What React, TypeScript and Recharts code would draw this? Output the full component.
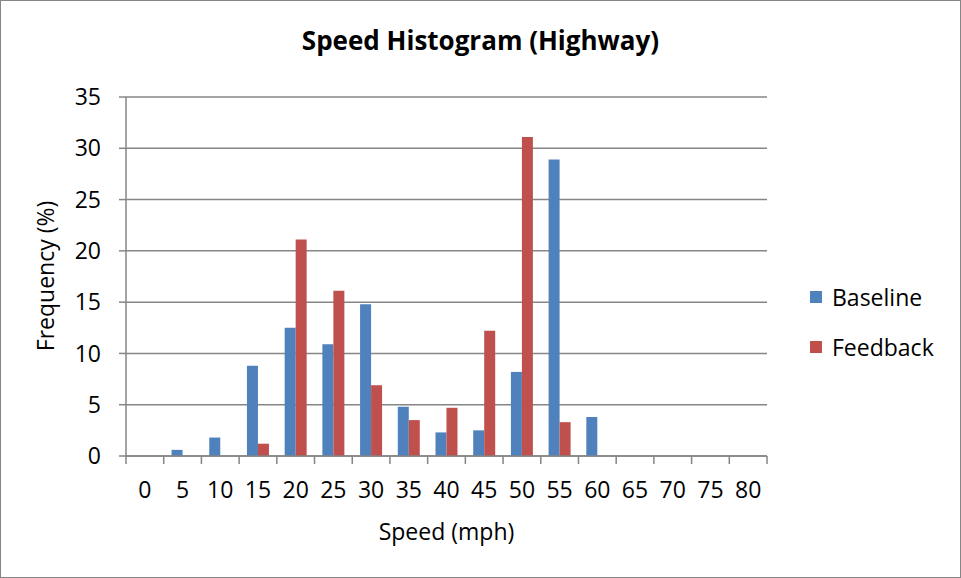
import React from 'react';
import { BarChart, Bar, XAxis, YAxis, CartesianGrid } from 'recharts';

const categories = ['0', '5', '10', '15', '20', '25', '30', '35', '40', '45', '50', '55', '60', '65', '70', '75', '80'];
const baseline = [0, 0.6, 1.8, 8.8, 12.5, 10.9, 14.8, 4.8, 2.3, 2.5, 8.2, 28.9, 3.8, 0, 0, 0, 0];
const feedback = [0, 0, 0, 1.2, 21.1, 16.1, 6.9, 3.5, 4.7, 12.2, 31.1, 3.3, 0, 0, 0, 0, 0];
const yTicks = [0, 5, 10, 15, 20, 25, 30, 35];

const series = [
  { key: 'baseline', name: 'Baseline', color: '#4F81BD' },
  { key: 'feedback', name: 'Feedback', color: '#C0504D' },
];

const data = categories.map((c, i) => ({ speed: c, baseline: baseline[i], feedback: feedback[i] }));

const W = 961;
const H = 578;
const MARGIN = { top: 97, right: 194, bottom: 82, left: 0 };
const Y_AXIS_W = 126;
const X_AXIS_H = 40;
const PLOT_W = W - MARGIN.left - MARGIN.right - Y_AXIS_W;
const BAND = PLOT_W / categories.length;
const FONT = "'Open Sans', sans-serif";
const AXIS_COLOR = '#868686';

const XTick = (props: any) => {
  const { x, y, index } = props;
  const half = BAND / 2;
  const last = index === categories.length - 1;
  return (
    <g>
      <line x1={x - half} y1={y} x2={x - half} y2={y + 8} stroke={AXIS_COLOR} strokeWidth={1.5} />
      {last && <line x1={x + half} y1={y} x2={x + half} y2={y + 8} stroke={AXIS_COLOR} strokeWidth={1.5} />}
      <text x={x} y={y + 42} textAnchor="middle" fill="#000" fontSize={23} fontFamily={FONT}>
        {props.payload.value}
      </text>
    </g>
  );
};

export default function App() {
  return (
    <div style={{ position: 'absolute', left: 0, top: 0, width: W, height: H, background: '#fff' }}>
      <BarChart
        width={W}
        height={H}
        data={data}
        margin={MARGIN}
        barCategoryGap="20.8%"
        barGap={0}
      >
        <CartesianGrid vertical={false} stroke={AXIS_COLOR} strokeWidth={1.5} />
        <XAxis
          dataKey="speed"
          height={X_AXIS_H}
          tickLine={false}
          tickSize={0}
          tickMargin={0}
          axisLine={{ stroke: AXIS_COLOR, strokeWidth: 1.5 }}
          tick={<XTick />}
          interval={0}
        />
        <YAxis
          width={Y_AXIS_W}
          domain={[0, 35]}
          ticks={yTicks}
          interval={0}
          tickSize={7}
          tickMargin={18}
          tickLine={{ stroke: AXIS_COLOR, strokeWidth: 1.5 }}
          axisLine={{ stroke: AXIS_COLOR, strokeWidth: 1.5 }}
          tick={{ fill: '#000', fontSize: 23, fontFamily: FONT }}
        />
        {series.map((s) => (
          <Bar key={s.key} dataKey={s.key} name={s.name} fill={s.color} isAnimationActive={false} />
        ))}
      </BarChart>
      <svg
        width={W}
        height={H}
        style={{ position: 'absolute', left: 0, top: 0, pointerEvents: 'none' }}
      >
        <rect x={0.5} y={0.5} width={W - 1} height={H - 1} fill="none" stroke={AXIS_COLOR} strokeWidth={1} />
        <text x={480.5} y={50} textAnchor="middle" fontSize={26} fontWeight="bold" fontFamily={FONT} fill="#000">
          Speed Histogram (Highway)
        </text>
        <text x={446.5} y={540} textAnchor="middle" fontSize={23} fontFamily={FONT} fill="#000">
          Speed (mph)
        </text>
        <text
          transform="translate(54, 276) rotate(-90)"
          textAnchor="middle"
          fontSize={23}
          fontFamily={FONT}
          fill="#000"
        >
          Frequency (%)
        </text>
        {series.map((s, i) => (
          <g key={s.key}>
            <rect x={810} y={291 + i * 50} width={12} height={12} fill={s.color} />
            <text x={832} y={306 + i * 50} fontSize={23} fontFamily={FONT} fill="#000">
              {s.name}
            </text>
          </g>
        ))}
      </svg>
    </div>
  );
}
